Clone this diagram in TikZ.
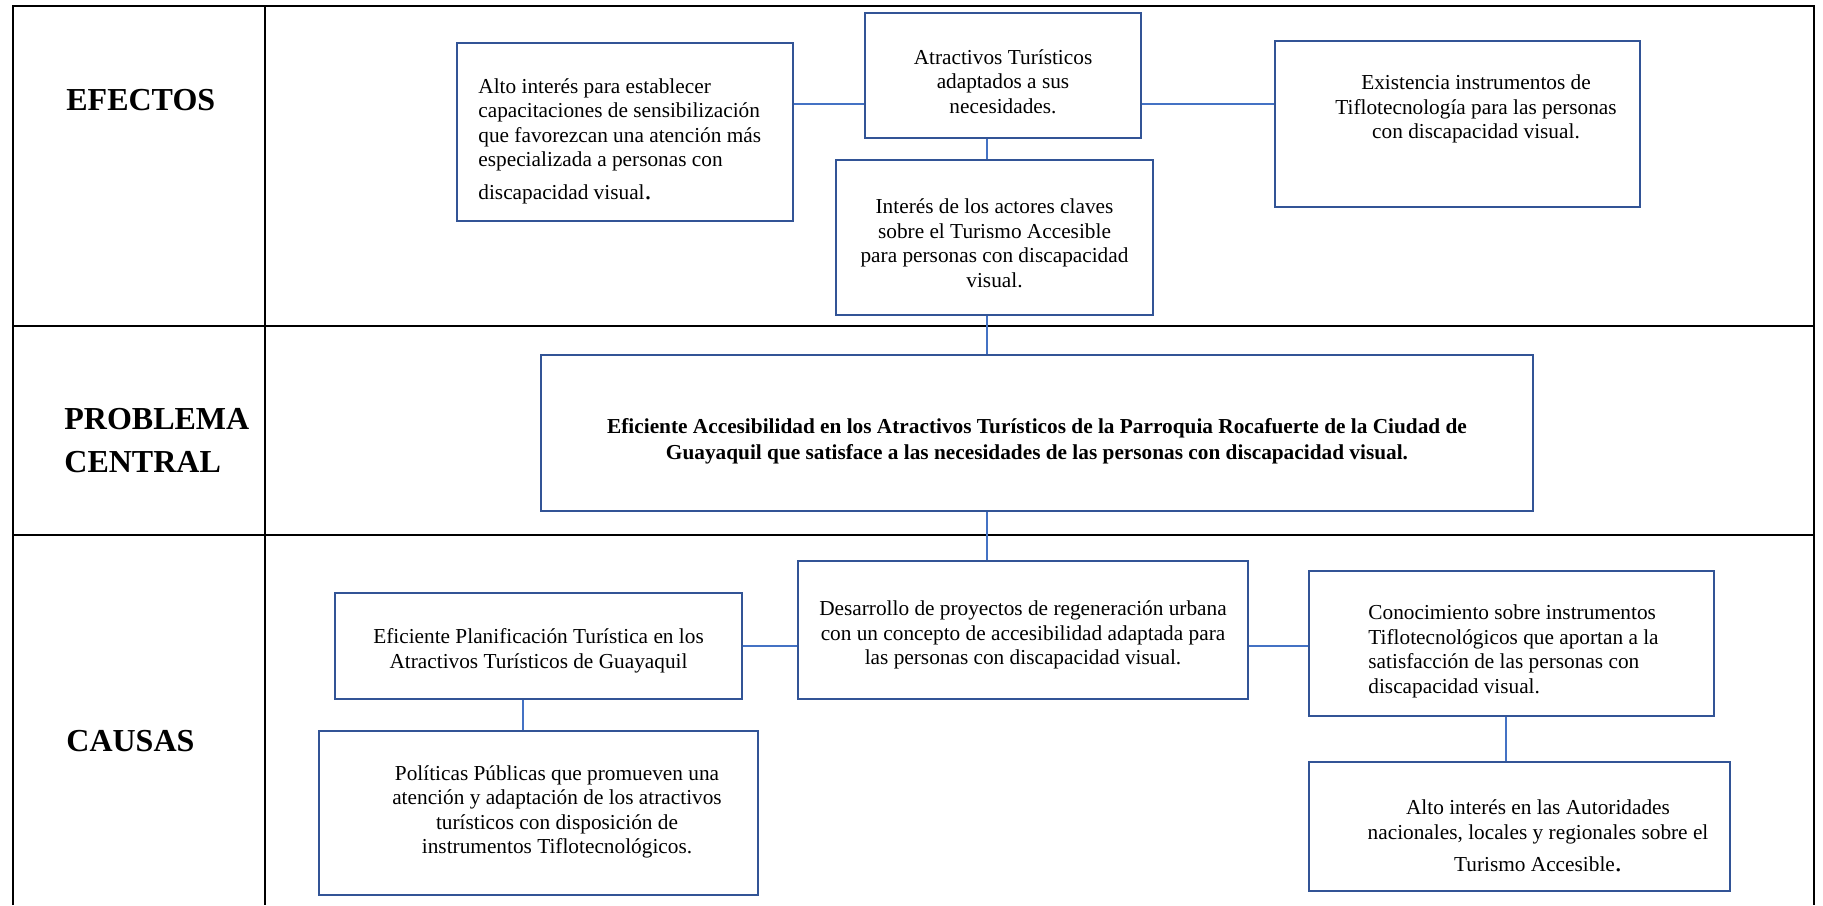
\documentclass[tikz,border=0pt]{standalone}
\usepackage{fontspec}
\setmainfont{Liberation Serif}
\usepackage{tikz}
\usepackage{xcolor}

\definecolor{boxblue}{RGB}{50,84,150}
\definecolor{linkblue}{RGB}{68,114,196}

\tikzset{
  grid/.style={draw=black, line width=1pt},
  box/.style={draw=boxblue, line width=1.3pt, rectangle, inner sep=0pt},
  link/.style={draw=linkblue, line width=0.6pt},
  txt/.style={font=\fontsize{10.65}{12.25}\selectfont, align=center, inner sep=0pt},
  head/.style={font=\fontsize{16}{21.5}\selectfont\bfseries, align=left, anchor=west, inner sep=0pt}
}

\newcommand{\bigdot}{{\fontsize{14}{12}\selectfont .}}

\begin{document}
\begin{tikzpicture}[x=0.5pt, y=-0.5pt]
\useasboundingbox (0,0) rectangle (1823,905);

% table
\draw[grid] (13,905) -- (13,6) -- (1814,6) -- (1814,905);
\draw[grid] (265,6) -- (265,905);
\draw[grid] (13,326) -- (1814,326);
\draw[grid] (13,535) -- (1814,535);

\node[head] (efectos) at (66,100) {EFECTOS};
\node[head] (central) at (64,440.5) {PROBLEMA\\CENTRAL};
\node[head] (causas) at (66,741) {CAUSAS};

% efectos
\node[box, minimum width=168pt, minimum height=89pt] (alto) at (625,132) {};
\node[box, minimum width=138pt, minimum height=62.5pt] (atr) at (1003,75.5) {};
\node[box, minimum width=158.5pt, minimum height=77.5pt] (inter) at (994.5,237.5) {};
\node[box, minimum width=182.5pt, minimum height=83pt] (exist) at (1457.5,124) {};

\node[txt, align=left, anchor=west] (altotxt) at (478,141) {Alto interés para establecer\\capacitaciones de sensibilización\\que favorezcan una atención más\\especializada a personas con\\[4pt]discapacidad visual\bigdot};
\node[txt] (atrtxt) at (1003,81.5) {Atractivos Turísticos\\adaptados a sus\\necesidades.};
\node[txt] (intertxt) at (994.5,243) {Interés de los actores claves\\sobre el Turismo Accesible\\para personas con discapacidad\\visual.};
\node[txt] (existtxt) at (1476,109) {Existencia instrumentos de\\Tiflotecnología para las personas\\con discapacidad visual.};

% problema central
\node[box, minimum width=496pt, minimum height=78pt] (prob) at (1037,433) {};
\node[txt, font=\fontsize{10.65}{12.85}\selectfont\bfseries] (probtxt) at (1037,441) {Eficiente Accesibilidad en los Atractivos Turísticos de la Parroquia Rocafuerte de la Ciudad de\\Guayaquil que satisface a las necesidades de las personas con discapacidad visual.};

% causas
\node[box, minimum width=203.5pt, minimum height=53pt] (plan) at (538.5,646) {};
\node[box, minimum width=225pt, minimum height=69pt] (desa) at (1023,630) {};
\node[box, minimum width=202.5pt, minimum height=72.5pt] (cono) at (1511.5,643.5) {};
\node[box, minimum width=219.5pt, minimum height=82pt] (poli) at (538.5,813) {};
\node[box, minimum width=210.5pt, minimum height=64.5pt] (auto) at (1519.5,826.5) {};

\node[txt] (plantxt) at (538.5,651) {Eficiente Planificación Turística en los\\Atractivos Turísticos de Guayaquil};
\node[txt] (desatxt) at (1023,635) {Desarrollo de proyectos de regeneración urbana\\con un concepto de accesibilidad adaptada para\\las personas con discapacidad visual.};
\node[txt, align=left, anchor=west] (conotxt) at (1368,651.5) {Conocimiento sobre instrumentos\\Tiflotecnológicos que aportan a la\\satisfacción de las personas con\\discapacidad visual.};
\node[txt] (politxt) at (557,812) {Políticas Públicas que promueven una\\atención y adaptación de los atractivos\\turísticos con disposición de\\instrumentos Tiflotecnológicos.};
\node[txt] (autotxt) at (1538,836) {Alto interés en las Autoridades\\nacionales, locales y regionales sobre el\\[4pt]Turismo Accesible\bigdot};

% connectors
\coordinate (axis) at (987,0);
\coordinate (eline) at (0,104);
\coordinate (pline) at (523,0);
\coordinate (aline) at (1506,0);

\draw[link] (alto.east |- eline) -- (atr.west |- eline);
\draw[link] (atr.east |- eline) -- (exist.west |- eline);
\draw[link] (axis |- atr.south) -- (axis |- inter.north);
\draw[link] (axis |- inter.south) -- (axis |- prob.north);
\draw[link] (axis |- prob.south) -- (axis |- desa.north);
\draw[link] (plan.east) -- (plan.east -| desa.west);
\draw[link] (desa.east |- plan.east) -- (cono.west |- plan.east);
\draw[link] (pline |- plan.south) -- (pline |- poli.north);
\draw[link] (aline |- cono.south) -- (aline |- auto.north);
\end{tikzpicture}
\end{document}
